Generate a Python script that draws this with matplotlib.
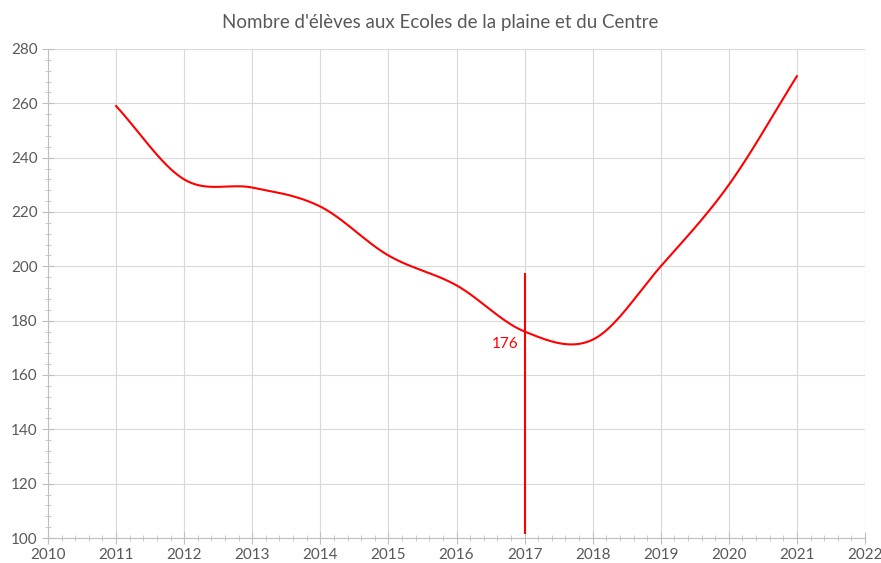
import numpy as np
import matplotlib.pyplot as plt
from matplotlib.ticker import MultipleLocator

years = [2011, 2012, 2013, 2014, 2015, 2016, 2017, 2018, 2019, 2020, 2021]
eleves = [259, 232, 229, 222, 204, 193, 176, 173, 200, 230, 270]
mark_year = 2017
mark_value = 176
mark_top = 197.5

plt.rcParams['font.family'] = ['Lato', 'DejaVu Sans']


def catmull_rom(x, y, n=40):
    # courbe lissee type Excel
    x = np.asarray(x, float)
    y = np.asarray(y, float)
    px = np.concatenate([[2 * x[0] - x[1]], x, [2 * x[-1] - x[-2]]])
    py = np.concatenate([[2 * y[0] - y[1]], y, [2 * y[-1] - y[-2]]])
    xs, ys = [], []
    t = np.linspace(0, 1, n)
    for i in range(1, len(px) - 2):
        for p, out in ((px, xs), (py, ys)):
            p0, p1, p2, p3 = p[i - 1], p[i], p[i + 1], p[i + 2]
            out.append(0.5 * (2 * p1 + (-p0 + p2) * t
                              + (2 * p0 - 5 * p1 + 4 * p2 - p3) * t ** 2
                              + (-p0 + 3 * p1 - 3 * p2 + p3) * t ** 3))
    return np.concatenate(xs), np.concatenate(ys)


fig = plt.figure(figsize=(8.81, 5.63), dpi=100)
ax = fig.add_axes([48 / 881, 25 / 563, 817 / 881, 489 / 563])

sx, sy = catmull_rom(years, eleves)
ax.plot(sx, sy, color='#ff0000', lw=1.5, zorder=3)
ax.vlines(mark_year, 101.5, mark_top, color='#ff0000', lw=1.5, zorder=3)
ax.text(mark_year - 0.09, mark_value - 4.6, str(mark_value), color='#ff0000',
        fontsize=11, ha='right', va='center')

ax.set_xlim(2010, 2022)
ax.set_ylim(100, 280)
ax.xaxis.set_major_locator(MultipleLocator(1))
ax.xaxis.set_minor_locator(MultipleLocator(0.2))
ax.yaxis.set_major_locator(MultipleLocator(20))
ax.yaxis.set_minor_locator(MultipleLocator(4))
ax.grid(True, which='major', color='#d9d9d9', lw=0.8)
ax.set_axisbelow(True)

for s in ['top', 'right']:
    ax.spines[s].set_visible(False)
for s in ['left', 'bottom']:
    ax.spines[s].set_color('#bfbfbf')
ax.tick_params(which='both', direction='inout', color='#bfbfbf', labelcolor='#595959')
ax.tick_params(which='major', length=8, labelsize=11)
ax.tick_params(which='minor', length=5)

fig.suptitle("Nombre d'élèves aux Ecoles de la plaine et du Centre",
             y=0.975, fontsize=13.5, color='#595959')

fig.savefig('out.png', dpi=100)
